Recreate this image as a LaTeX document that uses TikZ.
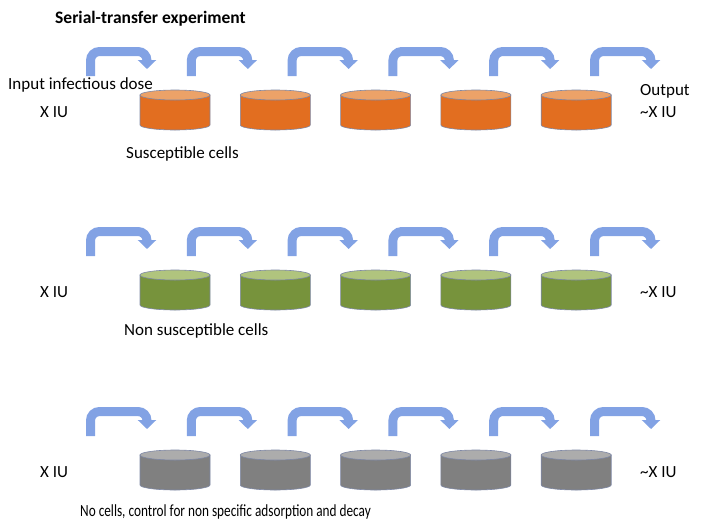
\documentclass[tikz,border=0pt]{standalone}
\usepackage{fontspec}
\setmainfont{Carlito}
\usetikzlibrary{arrows.meta}

\definecolor{flowblue}{RGB}{130,162,228}
\definecolor{rimgray}{RGB}{125,135,165}
\definecolor{orgbody}{RGB}{226,110,32}
\definecolor{orgtop}{RGB}{236,162,104}
\definecolor{grnbody}{RGB}{119,147,60}
\definecolor{grntop}{RGB}{176,196,126}
\definecolor{grybody}{RGB}{128,128,128}
\definecolor{grytop}{RGB}{172,172,172}

\tikzset{
  flow/.style={draw=flowblue, line width=9pt, rounded corners=9pt,
    -{Triangle[width=18pt,length=9pt]}},
  cyl/.style={draw=rimgray, line width=0.6pt},
  lbl/.style={anchor=base west, inner sep=0pt, font=\fontsize{17}{20}\selectfont}
}

\begin{document}
\begin{tikzpicture}[x=1pt,y=1pt]
    \useasboundingbox (0,0) rectangle (701,-528);
    \foreach \row/\body/\lid in {0/orgbody/orgtop,180/grnbody/grntop,360/grybody/grytop}
    {
      \foreach \k [evaluate=\k as \sx using 90.5+100.8*\k] in {0,1,...,5}
        \draw[flow] (\sx,-76-\row) -- (\sx,-51.5-\row) -- (\sx+56.5,-51.5-\row)
        -- (\sx+56.5,-69-\row);
      \foreach \k [evaluate=\k as \cx using 175+100.3*\k] in {0,1,...,4}
      {
        \filldraw[cyl,fill=\body] (\cx-35,-95-\row) -- (\cx-35,-125-\row)
        arc[start angle=180,end angle=360,x radius=35,y radius=5]
        -- (\cx+35,-95-\row) -- cycle;
        \filldraw[cyl,fill=\lid] (\cx,-95-\row) ellipse[x radius=35,y radius=5];
      }
    }
    \node[lbl,font=\fontsize{17.5}{20}\selectfont\bfseries] (title) at (55,-23) {Serial-transfer experiment};
    \node[lbl] (dose) at (8,-89) {Input infectious dose};
    \node[lbl] (in1) at (40,-117) {X IU};
    \node[lbl] (out) at (640,-95) {Output};
    \node[lbl] (out1) at (640,-117) {\textasciitilde X IU};
    \node[lbl] (cells1) at (126,-158) {Susceptible cells};
    \node[lbl] (in2) at (40,-297) {X IU};
    \node[lbl] (out2) at (640,-297) {\textasciitilde X IU};
    \node[lbl] (cells2) at (124,-335) {Non susceptible cells};
    \node[lbl] (in3) at (40,-477) {X IU};
    \node[lbl] (out3) at (640,-477) {\textasciitilde X IU};
    \node[lbl] (cells3) at (80,-516) {\scalebox{0.78}[1]{No cells, control for non specific adsorption and decay}};
  \end{tikzpicture}
\end{document}
